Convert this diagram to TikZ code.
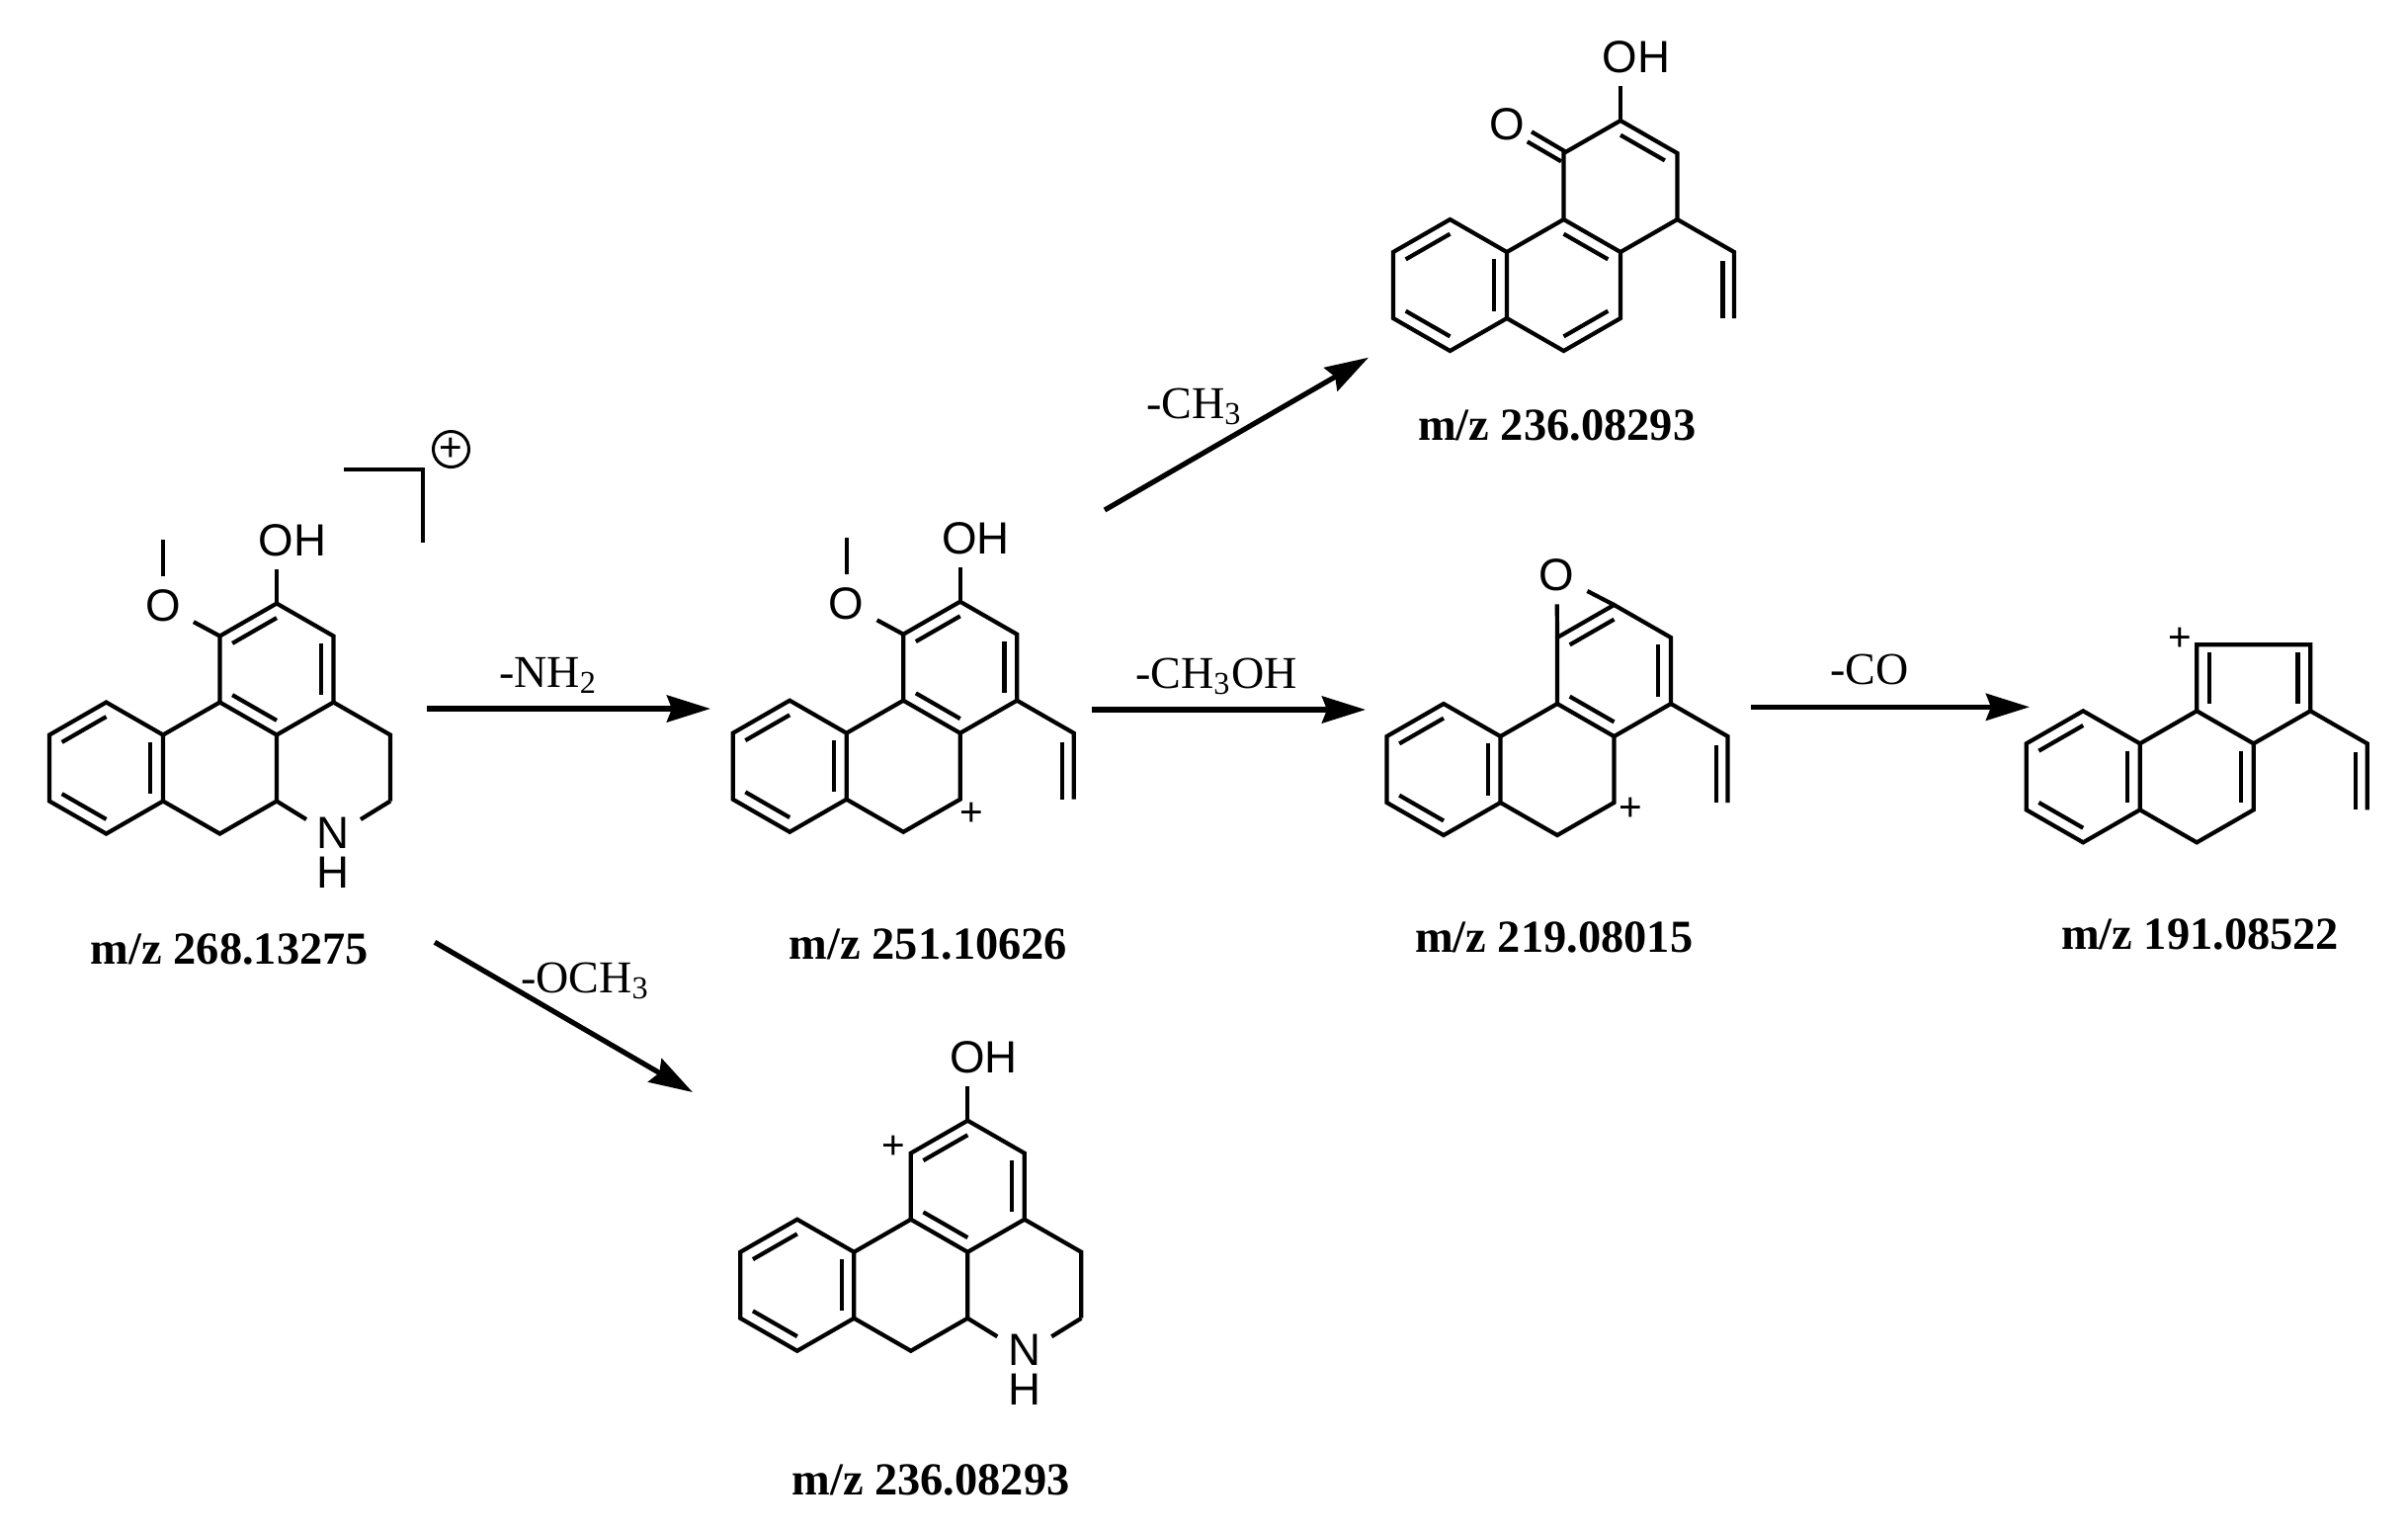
\documentclass[tikz,border=0pt]{standalone}
\usepackage{fontspec}
\setmainfont{Liberation Serif}
\newfontfamily\atomfont{Liberation Sans}
\usetikzlibrary{calc}
\usetikzlibrary{arrows.meta}
\tikzset{every picture/.style={line width=.042cm},
atom/.style={inner sep=.11cm,font=\atomfont\fontsize{13}{15}\selectfont},
chg/.style={inner sep=0,font=\atomfont\fontsize{11.5}{14}\selectfont},
mzlab/.style={inner sep=0,font=\fontsize{13.2}{16}\selectfont\bfseries},
losslab/.style={anchor=base west,inner sep=0,font=\fontsize{13.1}{16}\selectfont},
rxn/.style={line width=.052cm,-{Stealth[length=.44cm,width=.27cm,inset=.05cm]}}}

\newcommand{\dbond}[3]{\draw ($(#1)!.22!(#3)$) -- ($(#2)!.22!(#3)$);}
\newcommand{\ringbase}{
\foreach \n/\x/\y in {b1/0/0,b2/57.5/-33,b3/115/0,b4/115/67,b5/57.5/100,b6/0/67,
c1/172.5/-33,c2/230/0,c3/230/67,c4/172.5/100,d1/172.5/-100,d2/230/-133,d3/287.5/-100,d4/287.5/-33,
e1/345/0,e2/345/67,v1/333.5/9,v2/333.5/67,r1/57.5/33.5,r2/172.5/33.5,r3/230/-66.5} {
\coordinate (\n) at (\x,\y);
}
\draw (b1) -- (b2) -- (b3) -- (b4) -- (b5) -- (b6) -- cycle;
\draw (b3) -- (c1) -- (c2) -- (c3) -- (c4) -- (b4);
\dbond{b1}{b2}{r1}
\dbond{b3}{b4}{r1}
\dbond{b5}{b6}{r1}
\draw (d4) -- (e1) -- (e2);
}
\newcommand{\addoh}{
\node[atom] (oh) at (246,-197) {OH};
\draw (d2) -- (d2 |- oh.south);
}
\newcommand{\addmeo}{
\node[atom] (ome) at (115,-131) {O};
\coordinate (me) at (115,-197.4);
\draw (d1) -- (ome);
\draw (ome) -- (me);
}
\newcommand{\addnh}{
\node[atom,align=center,font=\atomfont\fontsize{13}{11.3}\selectfont] (nh) at (287.5,119) {N\\H};
\coordinate (nl) at (260,85.5);
\coordinate (nr) at (315,85.5);
\draw (c3) -- (nl);
\draw (e2) -- (nr);
}

\begin{document}
\begin{tikzpicture}[x=.01cm,y=-.01cm]
\useasboundingbox (0,0) rectangle (2437,1550);

\begin{scope}[shift={(50,743.5)},name prefix=ma-]
\ringbase
\addoh
\addmeo
\addnh
\draw (c1) -- (d1) -- (d2) -- (d3) -- (d4) -- (c2);
\dbond{d1}{d2}{r3}
\dbond{d3}{d4}{r3}
\dbond{c1}{c2}{r3}
\end{scope}
\node[mzlab] (mza) at (232.5,960) {m/z 268.13275};

\coordinate (brl) at (348.3,475);
\coordinate (brc) at (428,475);
\coordinate (brb) at (428,549);
\draw (brl) -- (brc) -- (brb);
\node[circle,draw,line width=.03cm,minimum size=.36cm,inner sep=0,font=\atomfont\fontsize{11.5}{14}\selectfont] (plusa) at (456.5,454.5) {+};

\begin{scope}[shift={(741.7,741.7)},name prefix=mb-]
\ringbase
\addoh
\addmeo
\draw (c1) -- (d1) -- (d2) -- (d3) -- (d4) -- (c2);
\draw (v1) -- (v2);
\dbond{d1}{d2}{r3}
\dbond{d3}{d4}{r3}
\dbond{c1}{c2}{r3}
\node[chg] (plusb) at (241.6,82.3) {+};
\end{scope}
\node[mzlab] (mzb) at (939.5,955) {m/z 251.10626};

\begin{scope}[shift={(1410,255)},name prefix=mc-]
\ringbase
\addoh
\draw (c1) -- (d1) -- (d2) -- (d3) -- (d4) -- (c2);
\draw (v1) -- (v2);
\dbond{d2}{d3}{r3}
\dbond{c1}{c2}{r2}
\dbond{c3}{c4}{r2}
\node[atom] (ok) at (115.5,-129) {O};
\coordinate (k1) at (140,-121.7);
\coordinate (k2) at (174,-101.7);
\coordinate (k3) at (135.7,-111.7);
\coordinate (k4) at (170,-91.7);
\draw (k1) -- (k2);
\draw (k3) -- (k4);
\end{scope}
\node[mzlab] (mzc) at (1575.7,430.7) {m/z 236.08293};

\begin{scope}[shift={(1403.5,745)},name prefix=md-]
\ringbase
\draw (c1) -- (d1) -- (d2) -- (d3) -- (d4) -- (c2);
\draw (v1) -- (v2);
\dbond{d1}{d2}{r3}
\dbond{d3}{d4}{r3}
\dbond{c1}{c2}{r3}
\node[atom] (oe) at (172,-163) {O};
\draw (d1) -- (oe);
\draw (d2) -- (oe);
\node[chg] (plusd) at (247.2,74) {+};
\end{scope}
\node[mzlab] (mzd) at (1572.7,948.3) {m/z 219.08015};

\begin{scope}[shift={(2050.7,752.3)},name prefix=me-]
\ringbase
\draw (c1) -- (d1) -- (d3) -- (d4) -- (c2);
\draw (v1) -- (v2);
\dbond{c1}{d1}{r3}
\dbond{d3}{d4}{r3}
\dbond{c2}{c3}{r2}
\node[chg] (pluse) at (155.3,-105.5) {+};
\end{scope}
\node[mzlab] (mze) at (2226.5,945) {m/z 191.08522};

\begin{scope}[shift={(749.3,1266.7)},name prefix=mf-]
\ringbase
\addoh
\addnh
\draw (c1) -- (d1) -- (d2) -- (d3) -- (d4) -- (c2);
\dbond{d1}{d2}{r3}
\dbond{d3}{d4}{r3}
\dbond{c1}{c2}{r3}
\node[chg] (plusf) at (155,-105.5) {+};
\end{scope}
\node[mzlab] (mzf) at (942,1497) {m/z 236.08293};

\foreach \n/\a/\b/\c/\d in {ab/432/717/719/717,bd/1105/718/1382/718,de/1772/715.3/2054/715.3,bc/1118/516/1385/361.7,af/440/953.3/701/1105} {
\coordinate (s\n) at (\a,\b);
\coordinate (t\n) at (\c,\d);
\draw[rxn] (s\n) -- (t\n);
}

\node[losslab] (lab) at (503,695) {-NH\textsubscript{2}};
\node[losslab] (lbd) at (1147,696) {-CH\textsubscript{3}OH};
\node[losslab] (lde) at (1850,692.7) {-CO};
\node[losslab] (lbc) at (1158,423) {-CH\textsubscript{3}};
\node[losslab] (laf) at (525,1004) {-OCH\textsubscript{3}};

\end{tikzpicture}
\end{document}
